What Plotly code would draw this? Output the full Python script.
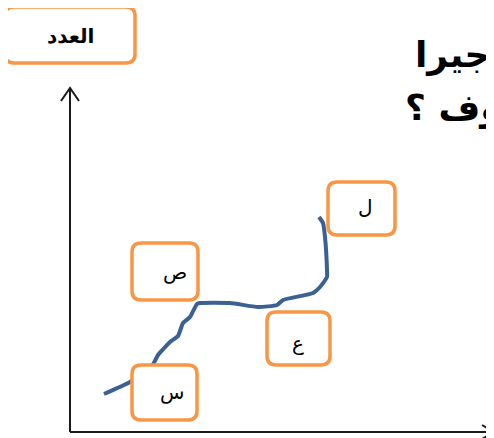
import plotly.graph_objects as go

# curve points, measured from the axes origin (x right, y up)
curve_x = [34, 60, 82, 88, 100, 108, 113, 120, 127, 130, 160, 188, 207, 213, 243, 250, 257, 257, 255, 253, 249]
curve_y = [38, 50, 66, 77, 90, 96, 109, 115, 128, 129, 129, 125, 127, 132, 139, 145, 155, 162, 195, 209, 215]

# box labels
labels = ["العدد", "ص", "ع", "س", "ل"]
title_lines = ["جيرا", "وف ؟"]

# layout of the boxes: (x0, x1, y_bottom, y_top, text_x, text_y)
box_pos = [
    (-65, 65, 369, 425, 0, 396),
    (62, 128, 132, 189, 105, 160),
    (197, 260, 67, 120, 228, 89),
    (62, 127, 12, 67, 102, 40),
    (258, 325, 197, 250, 295, 225),
]
ORANGE = "#F79646"
BLUE = "#3B6194"


def rounded(x0, x1, yb, yt, r=9):
    return (f"M{x0+r},{yb} L{x1-r},{yb} Q{x1},{yb} {x1},{yb+r} "
            f"L{x1},{yt-r} Q{x1},{yt} {x1-r},{yt} L{x0+r},{yt} "
            f"Q{x0},{yt} {x0},{yt-r} L{x0},{yb+r} Q{x0},{yb} {x0+r},{yb} Z")


fig = go.Figure()
fig.add_trace(go.Scatter(x=curve_x, y=curve_y, mode="lines",
                         line=dict(color=BLUE, width=4, shape="spline", smoothing=0.5),
                         hoverinfo="skip"))

shapes = []
# axes with open arrow heads
axis = dict(color="#1a1a1a", width=2)
shapes.append(dict(type="line", x0=0, y0=0, x1=0, y1=344, line=axis, layer="below"))
shapes.append(dict(type="line", x0=0, y0=0, x1=430, y1=0, line=axis, layer="below"))
shapes.append(dict(type="path", path="M-9,331 L0,344 L9,331", line=axis, layer="below"))
shapes.append(dict(type="path", path="M412,7 L424,0 L412,-7", line=axis, layer="below"))

annotations = []
for i, (lab, (x0, x1, yb, yt, tx, ty)) in enumerate(zip(labels, box_pos)):
    shapes.append(dict(type="path", path=rounded(x0, x1, yb, yt), fillcolor="white",
                       line=dict(color=ORANGE, width=3.5), layer="above"))
    annotations.append(dict(x=tx, y=ty, text=f"<b>{lab}</b>" if i == 0 else lab,
                            showarrow=False, xanchor="center", yanchor="middle",
                            font=dict(size=20, color="black", family="DejaVu Sans")))

# cut-off question text at the top right
annotations.append(dict(x=343, y=377, text=f"<b>{title_lines[0]}</b>", showarrow=False,
                        xanchor="left", yanchor="middle",
                        font=dict(size=36, color="black", family="DejaVu Sans")))
annotations.append(dict(x=333, y=324, text=f"<b>{title_lines[1]}</b>", showarrow=False,
                        xanchor="left", yanchor="middle",
                        font=dict(size=36, color="black", family="DejaVu Sans")))

# the page body has an 8px margin, so the ranges are offset to keep the
# axes origin at window pixel (70, 432)
fig.update_layout(
    width=494, height=438,
    margin=dict(l=0, r=0, t=0, b=0),
    paper_bgcolor="white", plot_bgcolor="white",
    showlegend=False,
    shapes=shapes, annotations=annotations,
    xaxis=dict(range=[-62, 432], visible=False, fixedrange=True),
    yaxis=dict(range=[-14, 424], visible=False, fixedrange=True),
)

fig.write_html("out.html")
